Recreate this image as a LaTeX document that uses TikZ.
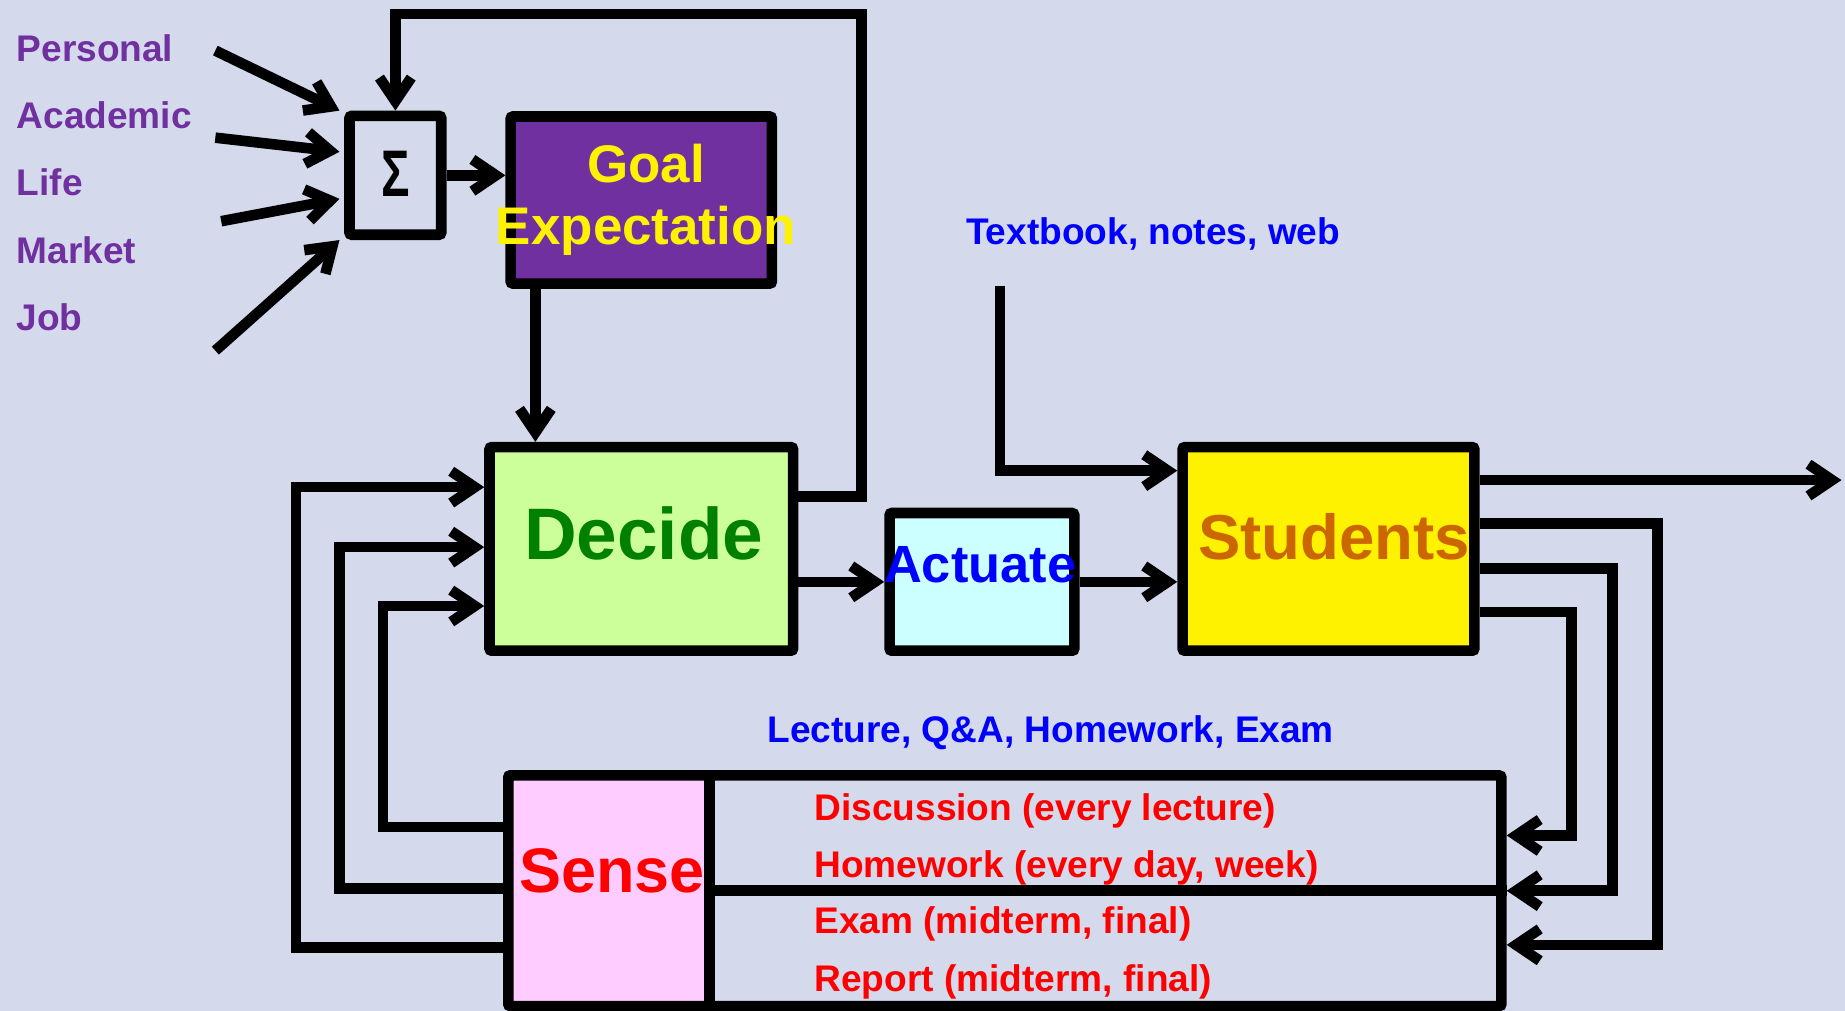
\documentclass[tikz,border=0pt]{standalone}
\usepackage{fontspec}
\usepackage{graphicx}
\setmainfont{Liberation Sans}
\usetikzlibrary{arrows.meta}
\definecolor{bg}{HTML}{D4DAEC}
\definecolor{purp}{HTML}{7030A0}
\definecolor{decc}{HTML}{CCFF99}
\definecolor{decT}{HTML}{008000}
\definecolor{actc}{HTML}{CCFFFF}
\definecolor{studT}{HTML}{CC6600}
\definecolor{sensec}{HTML}{FFCCFF}
\begin{document}
\begin{tikzpicture}[x=1pt,y=-1pt,
  box/.style={draw=black, line width=9pt, inner sep=0pt, rounded corners=2pt},
  conn/.style={line width=9pt, line join=miter, -{Straight Barb[length=20pt,width=27pt]}},
  lab/.style={font=\fontsize{31.5}{34}\selectfont\bfseries, inner sep=0pt},
  big/.style={inner sep=0pt, align=center}
]
\fill[bg] (0,0) rectangle (1568,859);
\useasboundingbox (0,0) rectangle (1568,859);

% left labels
\node[lab, text=purp, anchor=west] (lp) at (14,41) {Personal};
\node[lab, text=purp, anchor=west] (la) at (14,98) {Academic};
\node[lab, text=purp, anchor=west] (ll) at (14,155) {Life};
\node[lab, text=purp, anchor=west] (lm) at (14,213) {Market};
\node[lab, text=purp, anchor=west] (lj) at (14,270) {Job};

% sigma
\node[box, minimum width=78pt, minimum height=101pt, font=\fontsize{56}{56}\selectfont\bfseries] (sigma) at (336,149) {\raisebox{3pt}{\scalebox{0.72}[1]{Σ}}};

% goal
\node[box, fill=purp, minimum width=222pt, minimum height=142pt] (goal) at (545,170) {};
\node[big, text=yellow, font=\fontsize{45}{53}\selectfont\bfseries] (goaltxt) at (549,170) {Goal\\Expectation};

% decide
\node[box, fill=decc, minimum width=258pt, minimum height=173pt] (decide) at (545,466.5) {};
\node[big, text=decT, font=\fontsize{62}{62}\selectfont\bfseries] (decidetxt) at (547,453) {Decide};

% actuate
\node[box, fill=actc, minimum width=157pt, minimum height=117pt] (actuate) at (834.5,494.5) {};
\node[big, text=blue, font=\fontsize{44.5}{44.5}\selectfont\bfseries] (acttxt) at (833,480) {Actuate};

% students
\node[box, fill=yellow, minimum width=248pt, minimum height=173pt] (students) at (1129,466.5) {};
\node[big, text=studT, font=\fontsize{54}{54}\selectfont\bfseries] (studtxt) at (1134,456) {Students};

% sense
\node[box, minimum width=844pt, minimum height=196pt] (sensebox) at (854,757) {};
\node[box, fill=sensec, minimum width=171pt, minimum height=196pt] (sense) at (517.5,757) {};
\draw[line width=9pt] (sense.east) -- (sensebox.east);
\node[big, text=red, font=\fontsize{53.5}{53.5}\selectfont\bfseries] (sensetxt) at (520,740) {Sense};

% texts
\node[lab, text=blue] (tbtxt) at (980,198.5) {Textbook, notes, web};
\node[lab, text=blue] (lqtxt) at (893,622.5) {Lecture, Q\&A, Homework, Exam};
\node[lab, text=red, anchor=west] (s1) at (692,689.5) {Discussion (every lecture)};
\node[lab, text=red, anchor=west] (s2) at (692,737.5) {Homework (every day, week)};
\node[lab, text=red, anchor=west] (s3) at (692,785.5) {Exam (midterm, final)};
\node[lab, text=red, anchor=west] (s4) at (692,834.5) {Report (midterm, final)};

% input coordinates
\coordinate (inP) at (183,43);
\coordinate (inA) at (183,117);
\coordinate (inL) at (188,188);
\coordinate (inM) at (183,298);
\coordinate (tb) at (850,243);
\coordinate (out) at (1565,408);

% connectors into sigma
\draw[conn] (inP) -- ([xshift=-4pt]sigma.north west);
\draw[conn] (inA) -- ([xshift=-4pt,yshift=20pt]sigma.west);
\draw[conn] (inL) -- ([xshift=-4pt,yshift=-20pt]sigma.west);
\draw[conn] (inM) -- ([xshift=-4pt]sigma.south west);

\draw[conn] (sigma.east) -- (goal.west |- sigma.east);
\draw[conn] ([xshift=-90pt]goal.south) -- ([xshift=-90pt]decide.north);
\draw[conn] ([yshift=44.5pt]decide.east) -| (732,12) -| (sigma.north);
\draw[conn] (decide.east |- actuate.west) -- (actuate.west);
\draw[conn] (actuate.east) -- (students.west |- actuate.east);
\draw[conn] (tb) |- ([yshift=66.5pt]students.west);
\draw[conn] ([yshift=58.5pt]students.east) -- (out);

% students -> sense
\draw[conn] ([yshift=21.5pt]students.east) -- ++(151,0) |- ([yshift=-46pt]sensebox.east);
\draw[conn] ([yshift=-16.5pt]students.east) -- ++(113,0) |- (sensebox.east);
\draw[conn] ([yshift=-53.5pt]students.east) -- ++(78,0) |- ([yshift=47pt]sensebox.east);

% sense -> decide
\draw[conn] ([yshift=54pt]sensebox.west) -- ++(-102,0) |- ([yshift=-48.5pt]decide.west);
\draw[conn] ([yshift=2pt]sensebox.west) -- ++(-139,0) |- ([yshift=1.5pt]decide.west);
\draw[conn] ([yshift=-48pt]sensebox.west) -- ++(-176,0) |- ([yshift=52.5pt]decide.west);
\end{tikzpicture}
\end{document}
